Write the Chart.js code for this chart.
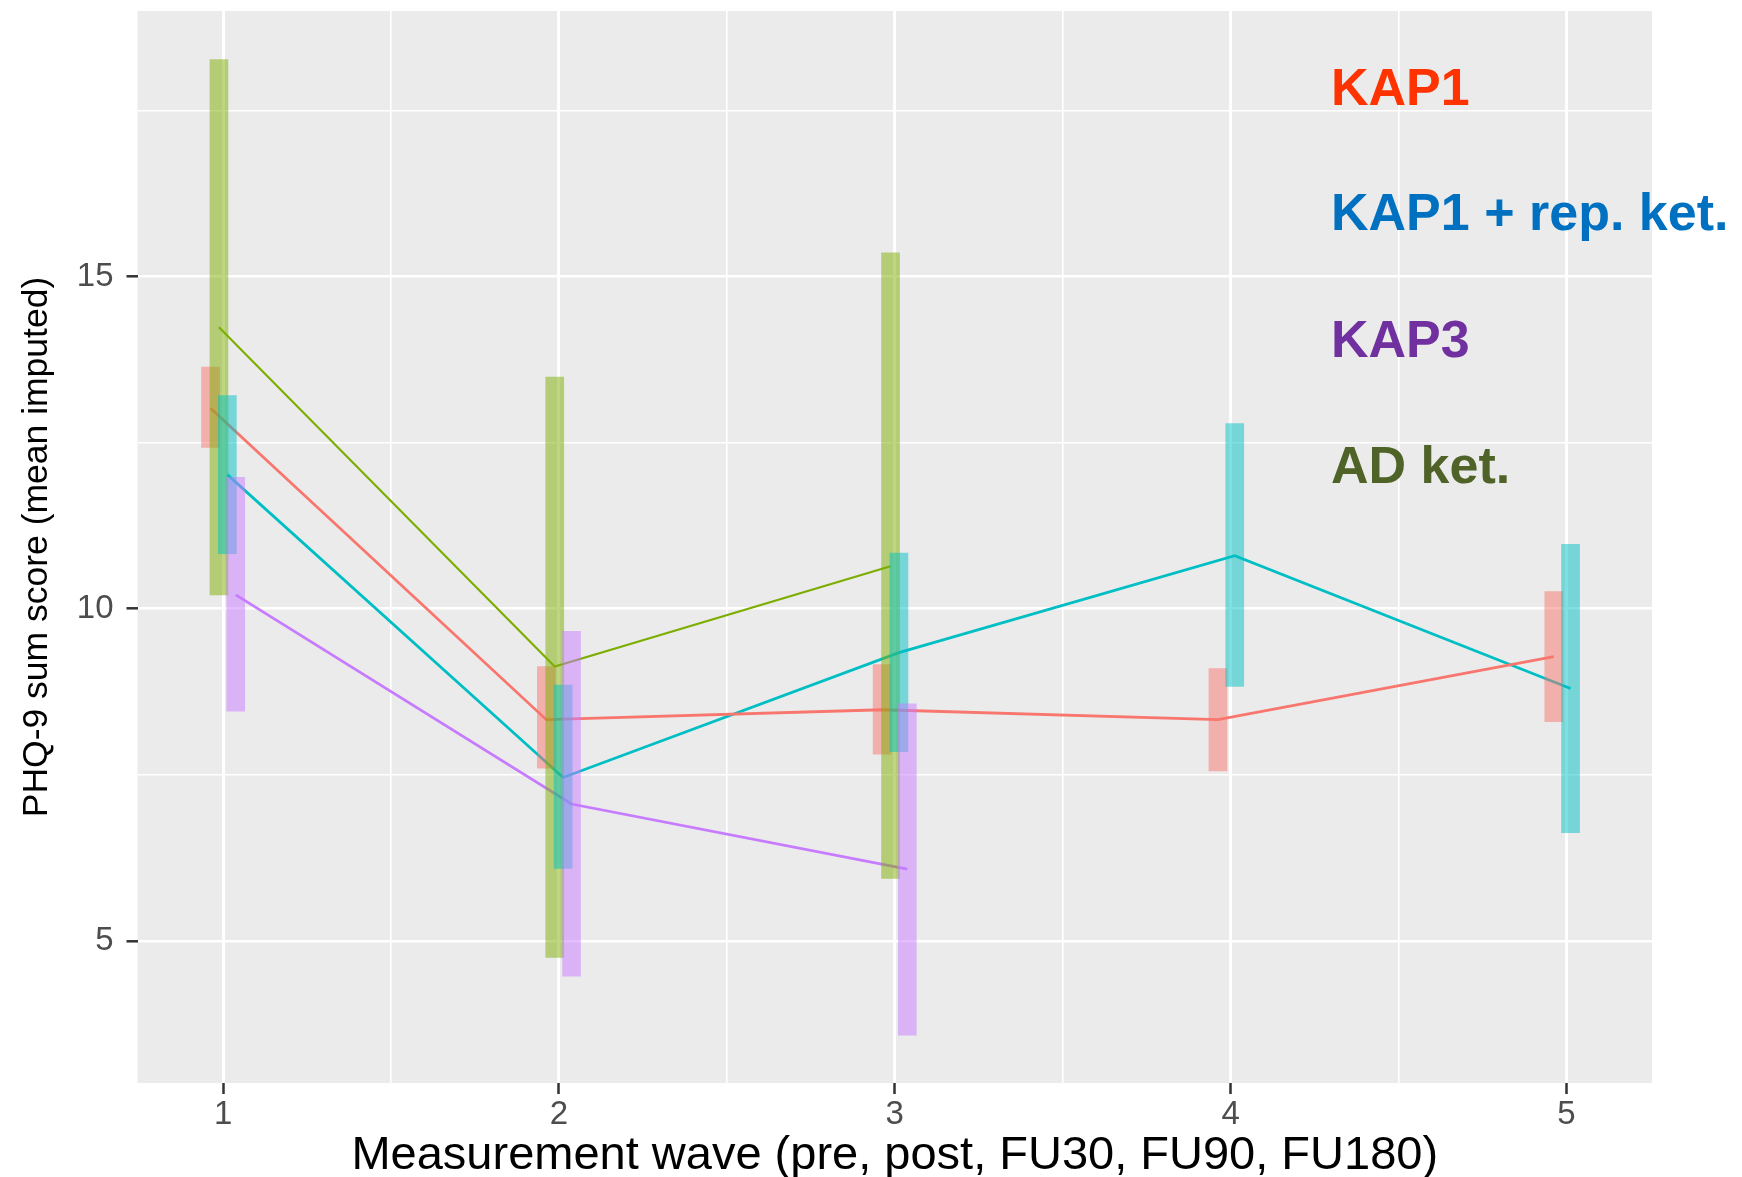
<!DOCTYPE html>
<html>
<head>
<meta charset="utf-8">
<title>PHQ-9 sum score by measurement wave</title>
<script src="https://cdn.jsdelivr.net/npm/chart.js@4.4.1/dist/chart.umd.min.js"></script>
<style>
  html, body { margin: 0; padding: 0; background: #fff; }
  #wrap { width: 1742px; height: 1177px; }
</style>
</head>
<body>
<div id="wrap"><canvas id="phqChart" width="1742" height="1177"></canvas></div>
<script>
// Measurement waves (pre, post, FU30, FU90, FU180)
const waves = [1, 2, 3, 4, 5];
const xTicks = [1, 1.5, 2, 2.5, 3, 3.5, 4, 4.5, 5];
const yTicks = [5, 7.5, 10, 12.5, 15, 17.5];

// Groups in plotting order, and their dodge offset on the x axis
const groupNames = ['KAP1', 'AD ket.', 'KAP1 + rep. ket.', 'KAP3'];
const dodge = [-0.0375, -0.0125, 0.0125, 0.0375];

// Mean PHQ-9 and interval limits per wave (null = no data at that wave)
const kap1Mean = [13.02, 8.33, 8.48, 8.33, 9.28];
const kap1Low  = [12.43, 7.60, 7.81, 7.56, 8.30];
const kap1High = [13.64, 9.13, 9.16, 9.10, 10.26];

const adMean = [14.24, 9.13, 10.64, null, null];
const adLow  = [10.21, 4.75, 5.94, null, null];
const adHigh = [18.27, 13.49, 15.36, null, null];

const repMean = [12.02, 7.46, 9.34, 10.80, 8.80];
const repLow  = [10.83, 6.09, 7.85, 8.83, 6.63];
const repHigh = [13.21, 8.85, 10.84, 12.79, 10.97];

const kap3Mean = [10.21, 7.06, 6.08, null, null];
const kap3Low  = [8.46, 4.47, 3.58, null, null];
const kap3High = [11.98, 9.66, 8.57, null, null];

// ggplot default hues
const LINE_COLORS = ['#F8766D', '#7CAE00', '#00BFC4', '#C77CFF'];
const BAR_COLORS = ['rgba(248,118,109,.5)', 'rgba(124,174,0,.5)', 'rgba(0,191,196,.5)', 'rgba(199,124,255,.5)'];
const LINE_WIDTHS = [2.8, 2.1, 2.8, 2.8];

// Hand-placed labels (top to bottom)
const labelTexts = ['KAP1', 'KAP1 + rep. ket.', 'KAP3', 'AD ket.'];
const labelColors = ['#FF3300', '#0070C0', '#7030A0', '#4F6228'];

const series = [
  { mean: kap1Mean, low: kap1Low, high: kap1High },
  { mean: adMean, low: adLow, high: adHigh },
  { mean: repMean, low: repLow, high: repHigh },
  { mean: kap3Mean, low: kap3Low, high: kap3High }
];

const linePoints = (s, g) =>
  waves.map((w, i) => (s.mean[i] == null ? null : { x: w + dodge[g], y: s.mean[i] }))
       .filter(Boolean);

const rangePoints = (s, g) =>
  waves.map((w, i) => (s.low[i] == null ? null : { x: w + dodge[g], y: [s.low[i], s.high[i]] }))
       .filter(Boolean);

const datasets = [];
series.forEach((s, g) => {
  datasets.push({
    type: 'line',
    label: groupNames[g] + ' mean',
    data: linePoints(s, g),
    borderColor: LINE_COLORS[g],
    borderWidth: LINE_WIDTHS[g],
    pointRadius: 0,
    tension: 0,
    fill: false,
    order: 10
  });
});
series.forEach((s, g) => {
  datasets.push({
    type: 'bar',
    label: groupNames[g] + ' interval',
    data: rangePoints(s, g),
    backgroundColor: BAR_COLORS[g],
    borderWidth: 0,
    borderSkipped: false,
    barThickness: 18,
    grouped: false,
    order: 3 - g
  });
});

// Grey panel behind the grid
const panelBackground = {
  id: 'panelBackground',
  beforeDraw(chart) {
    const { ctx, chartArea: a } = chart;
    ctx.save();
    ctx.fillStyle = '#EBEBEB';
    ctx.fillRect(a.left, a.top, a.right - a.left, a.bottom - a.top);
    ctx.restore();
  }
};

// Coloured group names on the right
const groupLabels = {
  id: 'groupLabels',
  afterDraw(chart) {
    const { ctx } = chart;
    ctx.save();
    ctx.font = 'bold 52px "Liberation Sans", Arial, sans-serif';
    ctx.textAlign = 'left';
    ctx.textBaseline = 'alphabetic';
    const baselines = [105, 230, 357, 483];
    labelTexts.forEach((t, i) => {
      ctx.fillStyle = labelColors[i];
      ctx.fillText(t, 1331, baselines[i]);
    });
    ctx.restore();
  }
};

const isMajorX = (v) => Number.isInteger(v);
const isMajorY = (v) => v % 5 === 0;

Chart.defaults.font.family = '"Liberation Sans", Arial, Helvetica, sans-serif';

new Chart(document.getElementById('phqChart'), {
  type: 'bar',
  data: { datasets },
  options: {
    responsive: false,
    animation: false,
    layout: { padding: { top: 11, right: 90, left: 0, bottom: 0 } },
    plugins: {
      legend: { display: false },
      tooltip: { enabled: false }
    },
    scales: {
      x: {
        type: 'linear',
        min: 0.745,
        max: 5.255,
        offset: false,
        afterBuildTicks: (s) => { s.ticks = xTicks.map((v) => ({ value: v })); },
        afterFit: (s) => {
          s.height = 94;
          s.paddingLeft = 0;
          s.paddingRight = 0;
        },
        border: { display: false },
        grid: {
          offset: false,
          color: '#FFFFFF',
          lineWidth: (c) => (c.tick && isMajorX(c.tick.value) ? 3 : 1.6),
          tickColor: (c) => (c.tick && isMajorX(c.tick.value) ? '#333333' : 'rgba(0,0,0,0)'),
          tickLength: 11,
          tickWidth: 2.5
        },
        ticks: {
          autoSkip: false,
          maxRotation: 0,
          padding: 1,
          color: '#4D4D4D',
          font: { size: 33 },
          callback: (v) => (isMajorX(v) ? String(v) : '')
        },
        title: {
          display: true,
          text: 'Measurement wave (pre, post, FU30, FU90, FU180)',
          color: '#000000',
          font: { size: 47, lineHeight: 0.9 },
          padding: { top: 0, bottom: 0 }
        }
      },
      y: {
        type: 'linear',
        min: 2.86,
        max: 19.0,
        afterBuildTicks: (s) => { s.ticks = yTicks.map((v) => ({ value: v })); },
        afterFit: (s) => {
          s.width = 137.5;
          s.paddingTop = 0;
          s.paddingBottom = 0;
        },
        border: { display: false },
        grid: {
          color: '#FFFFFF',
          lineWidth: (c) => (c.tick && isMajorY(c.tick.value) ? 2.6 : 1.4),
          tickColor: (c) => (c.tick && isMajorY(c.tick.value) ? '#333333' : 'rgba(0,0,0,0)'),
          tickLength: 11,
          tickWidth: 2.5
        },
        ticks: {
          padding: 13,
          color: '#4D4D4D',
          font: { size: 33 },
          callback: (v) => (isMajorY(v) ? String(v) : '')
        },
        title: {
          display: true,
          text: 'PHQ-9 sum score (mean imputed)',
          color: '#000000',
          font: { size: 35.5, lineHeight: 1.2 },
          padding: { top: 16, bottom: 0 }
        }
      }
    }
  },
  plugins: [panelBackground, groupLabels]
});
</script>
</body>
</html>
